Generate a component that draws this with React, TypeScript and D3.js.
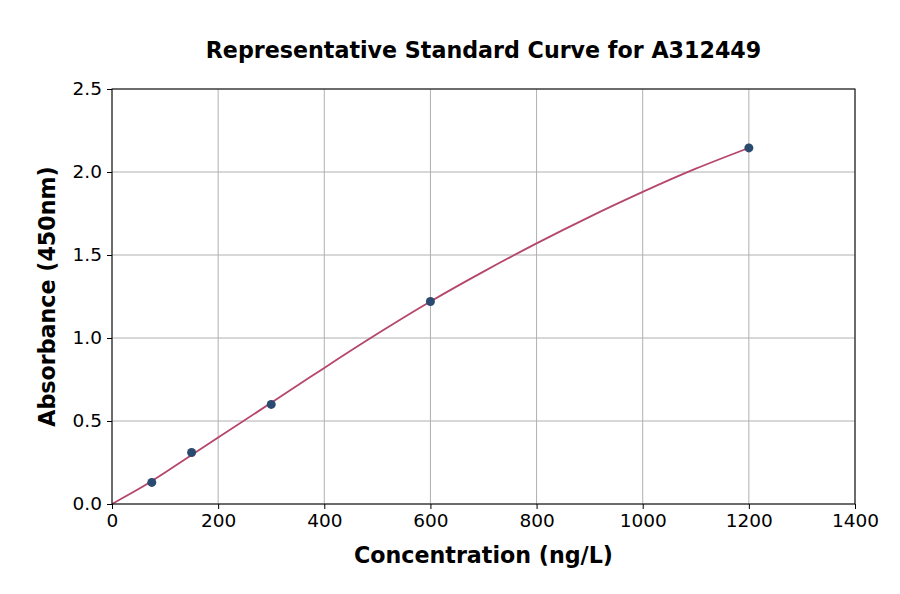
import React, { useEffect, useRef } from 'react';
import * as d3 from 'd3';

// Standard points (concentration ng/L, absorbance)
const concentrations = [75, 150, 300, 600, 1200];
const absorbances = [0.13, 0.31, 0.6, 1.22, 2.145];

// Fitted curve
const curveX = [0, 50, 100, 200, 300, 400, 500, 600, 700, 800, 900, 1000, 1100, 1200];
const curveY = [0.0, 0.09, 0.19, 0.4, 0.61, 0.82, 1.025, 1.22, 1.4, 1.57, 1.73, 1.88, 2.02, 2.145];

const xTicks = [0, 200, 400, 600, 800, 1000, 1200, 1400];
const yTicks = [0.0, 0.5, 1.0, 1.5, 2.0, 2.5];

const title = 'Representative Standard Curve for A312449';
const xLabel = 'Concentration (ng/L)';
const yLabel = 'Absorbance (450nm)';

const App: React.FC = () => {
  const svgRef = useRef<SVGSVGElement>(null);

  useEffect(() => {
    if (!svgRef.current) return;
    const W = 900;
    const H = 594;
    const margin = { top: 89, right: 45, bottom: 90, left: 112 };
    const width = W - margin.left - margin.right;
    const height = H - margin.top - margin.bottom;
    const font = 'DejaVu Sans, sans-serif';

    d3.select(svgRef.current).selectAll('*').remove();
    const root = d3.select(svgRef.current).attr('width', W).attr('height', H);
    root.append('rect').attr('width', W).attr('height', H).attr('fill', '#fff');

    const svg = root.append('g').attr('transform', `translate(${margin.left},${margin.top})`);

    const x = d3.scaleLinear().domain([0, 1400]).range([0, width]);
    const y = d3.scaleLinear().domain([0, 2.5]).range([height, 0]);

    // Grid
    svg.append('g')
      .selectAll('line')
      .data(xTicks)
      .enter()
      .append('line')
      .attr('x1', d => x(d)).attr('x2', d => x(d))
      .attr('y1', 0).attr('y2', height)
      .attr('stroke', '#b0b0b0').attr('stroke-width', 1);
    svg.append('g')
      .selectAll('line')
      .data(yTicks)
      .enter()
      .append('line')
      .attr('x1', 0).attr('x2', width)
      .attr('y1', d => y(d)).attr('y2', d => y(d))
      .attr('stroke', '#b0b0b0').attr('stroke-width', 1);

    // Curve
    const line = d3.line<number>()
      .x((_, i) => x(curveX[i]))
      .y(d => y(d))
      .curve(d3.curveNatural);
    svg.append('path')
      .datum(curveY)
      .attr('d', line)
      .attr('fill', 'none')
      .attr('stroke', '#b5466c')
      .attr('stroke-width', 1.8);

    // Points
    svg.selectAll('.dot')
      .data(concentrations)
      .enter()
      .append('circle')
      .attr('class', 'dot')
      .attr('cx', d => x(d))
      .attr('cy', (_, i) => y(absorbances[i]))
      .attr('r', 4.5)
      .attr('fill', '#2a4a6f');

    // Frame
    svg.append('rect')
      .attr('width', width).attr('height', height)
      .attr('fill', 'none').attr('stroke', '#000').attr('stroke-width', 1);

    // Axes
    const xAxis = svg.append('g')
      .attr('transform', `translate(0,${height})`)
      .call(d3.axisBottom(x).tickValues(xTicks).tickFormat(d3.format('d')).tickSize(5).tickPadding(5));
    const yAxis = svg.append('g')
      .call(d3.axisLeft(y).tickValues(yTicks).tickFormat(d3.format('.1f')).tickSize(5).tickPadding(5));
    [xAxis, yAxis].forEach(a => {
      a.select('.domain').remove();
      a.selectAll('text').attr('font-family', font).attr('font-size', 18.5).attr('fill', '#000');
      a.selectAll('line').attr('stroke', '#000');
    });

    // Labels
    svg.append('text')
      .attr('x', width / 2)
      .attr('y', height + 59)
      .attr('text-anchor', 'middle')
      .attr('font-family', font)
      .attr('font-size', 22.2)
      .attr('font-weight', 'bold')
      .text(xLabel);

    svg.append('text')
      .attr('transform', `translate(${55 - margin.left},${height / 2}) rotate(-90)`)
      .attr('text-anchor', 'middle')
      .attr('font-family', font)
      .attr('font-size', 22.2)
      .attr('font-weight', 'bold')
      .text(yLabel);

    // Title
    svg.append('text')
      .attr('x', width / 2)
      .attr('y', -31)
      .attr('text-anchor', 'middle')
      .attr('font-family', font)
      .attr('font-size', 22.2)
      .attr('font-weight', 'bold')
      .text(title);
  }, []);

  return <svg ref={svgRef} style={{ position: 'absolute', left: 0, top: 0 }}></svg>;
};

export default App;
